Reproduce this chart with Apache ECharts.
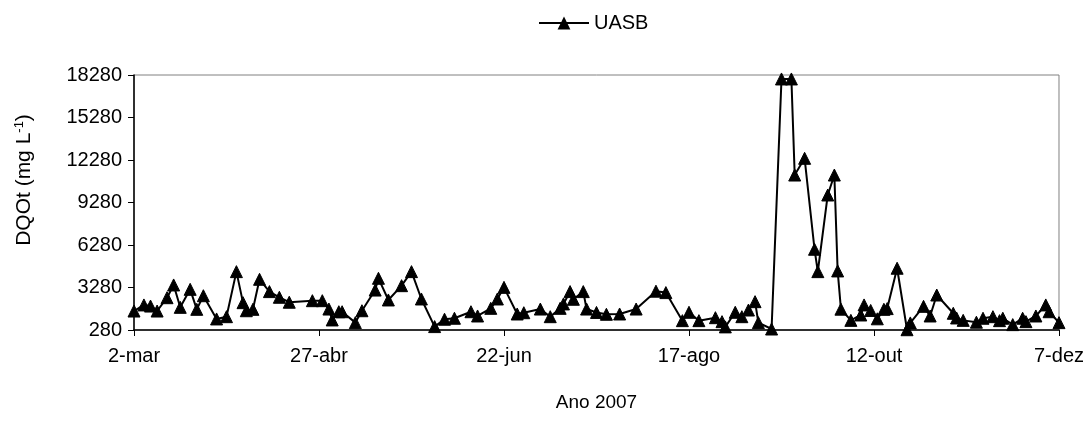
<!DOCTYPE html>
<html>
<head>
<meta charset="utf-8">
<style>
  html, body { margin: 0; padding: 0; background: #ffffff; }
  #chart { width: 1087px; height: 432px; }
</style>
<script src="https://cdn.jsdelivr.net/npm/echarts@6/dist/echarts.min.js"></script>
</head>
<body>
<div id="chart"></div>
<script>
// Sampling dates (2007) and total COD of the UASB reactor
const sampleDates = [
  '2007-03-02','2007-03-05','2007-03-07','2007-03-09','2007-03-12','2007-03-14','2007-03-16','2007-03-19',
  '2007-03-21','2007-03-23','2007-03-27','2007-03-30','2007-04-02','2007-04-04','2007-04-05','2007-04-07',
  '2007-04-09','2007-04-12','2007-04-15','2007-04-18','2007-04-25','2007-04-28','2007-04-30','2007-05-01',
  '2007-05-03','2007-05-04','2007-05-08','2007-05-10','2007-05-14','2007-05-15','2007-05-18','2007-05-22',
  '2007-05-25','2007-05-28','2007-06-01','2007-06-04','2007-06-07','2007-06-12','2007-06-14','2007-06-18',
  '2007-06-20','2007-06-22','2007-06-26','2007-06-28','2007-07-03','2007-07-06','2007-07-09','2007-07-10',
  '2007-07-12','2007-07-13','2007-07-16','2007-07-17','2007-07-20','2007-07-23','2007-07-27','2007-08-01',
  '2007-08-07','2007-08-10','2007-08-15','2007-08-17','2007-08-20','2007-08-25','2007-08-27','2007-08-28',
  '2007-08-31','2007-09-02','2007-09-04','2007-09-06','2007-09-07','2007-09-11','2007-09-14','2007-09-17',
  '2007-09-18','2007-09-21','2007-09-24','2007-09-25','2007-09-28','2007-09-30','2007-10-01','2007-10-02',
  '2007-10-05','2007-10-08','2007-10-09','2007-10-11','2007-10-13','2007-10-15','2007-10-16','2007-10-19',
  '2007-10-22','2007-10-23','2007-10-27','2007-10-29','2007-10-31','2007-11-05','2007-11-06','2007-11-08',
  '2007-11-12','2007-11-14','2007-11-17','2007-11-19','2007-11-20','2007-11-23','2007-11-26','2007-11-27',
  '2007-11-30','2007-12-03','2007-12-04','2007-12-07'
];

const uasbCOD = [
  1620, 2050, 1970, 1620, 2560, 3460, 1880, 3150,
  1740, 2700, 1060, 1220, 4400, 2210, 1640, 1740,
  3860, 2990, 2590, 2240, 2350, 2350, 1760, 990,
  1570, 1570, 800, 1640, 3100, 3930, 2400, 3410,
  4400, 2470, 520, 1040, 1110, 1570, 1270, 1810,
  2470, 3290, 1410, 1500, 1760, 1220, 1810, 2120,
  2990, 2450, 2990, 1760, 1520, 1390, 1410, 1760,
  3020, 2920, 940, 1530, 940, 1150, 870, 500,
  1530, 1220, 1690, 2280, 800, 350, 18000, 18000,
  11220, 12400, 5980, 4400, 9810, 11220, 4450, 1750,
  960, 1340, 2050, 1660, 1070, 1740, 1790, 4640,
  300, 780, 1950, 1270, 2750, 1460, 1130, 960,
  830, 1110, 1220, 940, 1110, 660, 1110, 870,
  1270, 2050, 1570, 800
];

// Axis settings
const startDate = '2007-03-02';
const endDate = '2007-12-07';
const dayStep = 56;
const yMin = 280, yMax = 18280, yStep = 3000;
const monthNames = ['jan','fev','mar','abr','mai','jun','jul','ago','set','out','nov','dez'];

const DAY = 86400000;
const t0 = Date.parse(startDate + 'T00:00:00Z');
const toDay = s => Math.round((Date.parse(s + 'T00:00:00Z') - t0) / DAY);
const dayLabel = d => {
  const dt = new Date(t0 + d * DAY);
  return dt.getUTCDate() + '-' + monthNames[dt.getUTCMonth()];
};

const seriesData = sampleDates.map((s, i) => [toDay(s), uasbCOD[i]]);
const font = '"Liberation Sans", Arial, sans-serif';
const fs = 20;

const chart = echarts.init(document.getElementById('chart'), null, { renderer: 'canvas' });
chart.setOption({
  animation: false,
  backgroundColor: '#ffffff',
  textStyle: { fontFamily: font, color: '#000' },
  grid: {
    left: 134, right: 28, top: 75, bottom: 102,
    show: true, borderColor: '#808080', borderWidth: 1
  },
  legend: {
    data: ['UASB'],
    left: 533, top: 8,
    itemWidth: 50, itemHeight: 16, itemGap: 8,
    textStyle: { fontFamily: font, fontSize: fs, color: '#000' }
  },
  xAxis: {
    type: 'value',
    min: 0, max: toDay(endDate), interval: dayStep,
    name: 'Ano 2007', nameLocation: 'middle', nameGap: 63,
    nameTextStyle: { fontFamily: font, fontSize: 19, color: '#000' },
    axisLine: { lineStyle: { color: '#000', width: 1.5 } },
    axisTick: { show: true, inside: false, length: 6, lineStyle: { color: '#000' } },
    axisLabel: { margin: 16, fontFamily: font, fontSize: fs, color: '#000', formatter: v => dayLabel(v) },
    splitLine: { show: false }
  },
  yAxis: {
    type: 'value',
    min: yMin, max: yMax, interval: yStep,
    axisLine: { show: true, lineStyle: { color: '#000', width: 1.5 } },
    axisTick: { show: true, inside: false, length: 6, lineStyle: { color: '#000' } },
    axisLabel: { margin: 12, fontFamily: font, fontSize: fs, color: '#000', formatter: v => String(v) },
    splitLine: { show: false }
  },
  graphic: [{
    type: 'text',
    x: 24, y: 180,
    rotation: Math.PI / 2,
    style: {
      text: 'DQOt (mg L{sup|-1})',
      fontFamily: font, fontSize: 21, fill: '#000',
      align: 'center', verticalAlign: 'middle',
      rich: { sup: { fontFamily: font, fontSize: 13, fill: '#000', verticalAlign: 'top', padding: [0, 0, 9, 0] } }
    }
  }],
  series: [{
    name: 'UASB',
    type: 'line',
    data: seriesData,
    symbol: 'triangle',
    symbolSize: 12,
    showAllSymbol: true,
    lineStyle: { color: '#000', width: 2 },
    itemStyle: { color: '#000', borderColor: '#000' }
  }]
});
</script>
</body>
</html>
